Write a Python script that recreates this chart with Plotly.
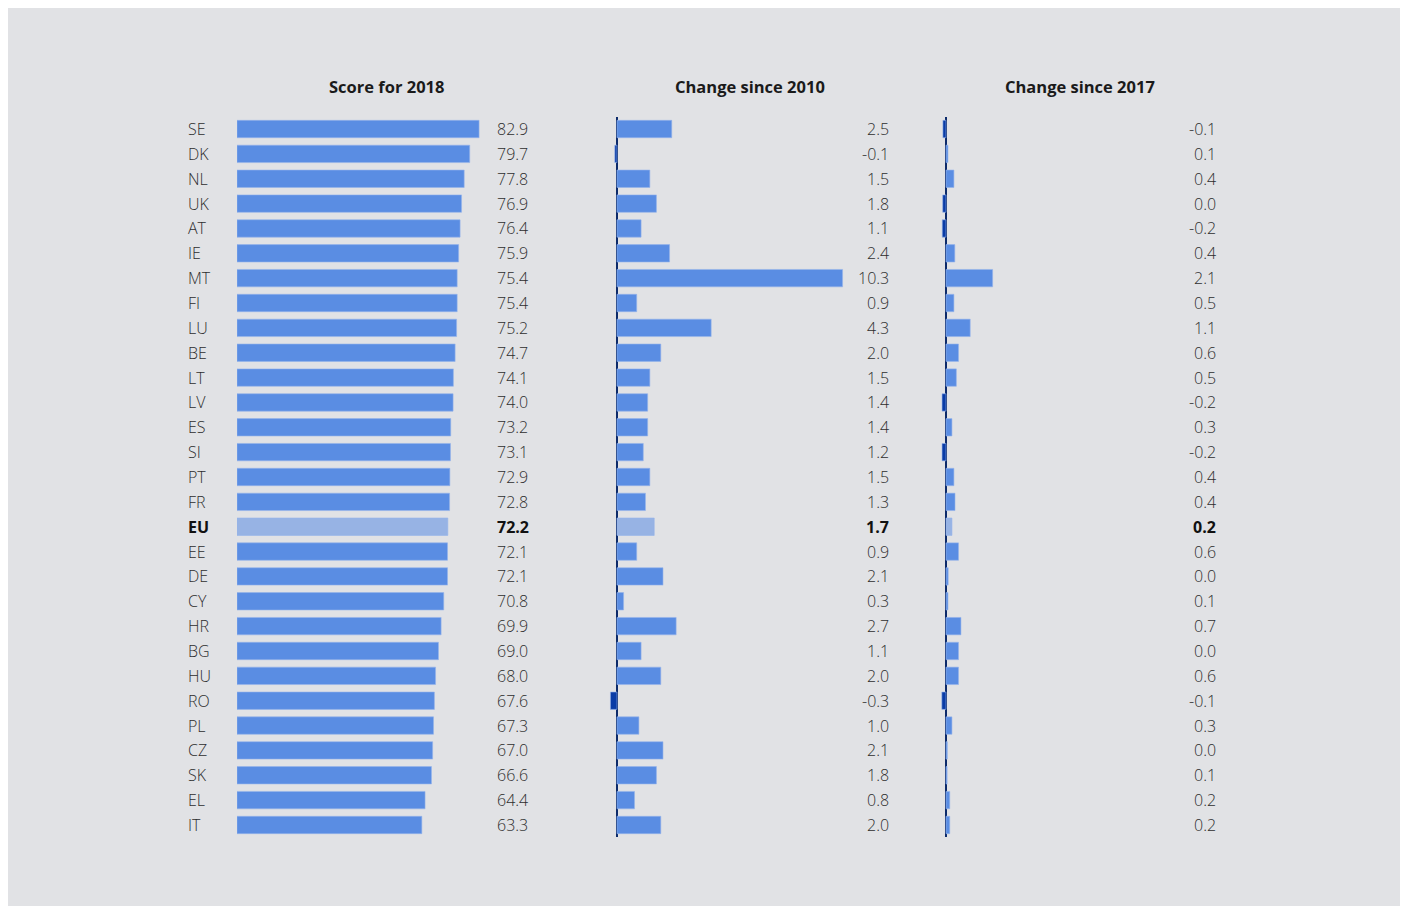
import plotly.graph_objects as go

countries = ["SE", "DK", "NL", "UK", "AT", "IE", "MT", "FI", "LU", "BE", "LT", "LV", "ES", "SI",
             "PT", "FR", "EU", "EE", "DE", "CY", "HR", "BG", "HU", "RO", "PL", "CZ", "SK", "EL", "IT"]
score_2018 = [82.9, 79.7, 77.8, 76.9, 76.4, 75.9, 75.4, 75.4, 75.2, 74.7, 74.1, 74.0, 73.2, 73.1,
              72.9, 72.8, 72.2, 72.1, 72.1, 70.8, 69.9, 69.0, 68.0, 67.6, 67.3, 67.0, 66.6, 64.4, 63.3]
change_2010 = [2.5, -0.1, 1.5, 1.8, 1.1, 2.4, 10.3, 0.9, 4.3, 2.0, 1.5, 1.4, 1.4, 1.2,
               1.5, 1.3, 1.7, 0.9, 2.1, 0.3, 2.7, 1.1, 2.0, -0.3, 1.0, 2.1, 1.8, 0.8, 2.0]
# labels shown for change since 2017
change_2017 = [-0.1, 0.1, 0.4, 0.0, -0.2, 0.4, 2.1, 0.5, 1.1, 0.6, 0.5, -0.2, 0.3, -0.2,
               0.4, 0.4, 0.2, 0.6, 0.0, 0.1, 0.7, 0.0, 0.6, -0.1, 0.3, 0.0, 0.1, 0.2, 0.2]
# bar lengths as drawn for change since 2017
change_2017_bar = [-0.14, 0.09, 0.36, -0.15, -0.17, 0.40, 2.12, 0.36, 1.10, 0.57, 0.47, -0.18, 0.27, -0.18,
                   0.36, 0.41, 0.27, 0.57, 0.10, 0.09, 0.68, 0.57, 0.57, -0.19, 0.27, 0.06, 0.05, 0.17, 0.17]
titles = ["Score for 2018", "Change since 2010", "Change since 2017"]

W, H = 1396, 898
BG = "#e1e2e5"
POS = "#5a8de3"
EUC = "#97b3e4"
NEG = "#0a3ca6"
AXC = "#0c2a6a"
TXT = "#2e2e2e"
FONT = "Open Sans"


def fx(px):
    return (px - 8) / W


def fy(py):
    return 1 - (py - 8) / H


def colors(vals):
    out = []
    for c, v in zip(countries, vals):
        if c == "EU":
            out.append(EUC)
        elif v < 0:
            out.append(NEG)
        else:
            out.append(POS)
    return out


def fmt(v):
    s = f"{v:.1f}"
    return s.replace("-0.0", "0.0")


fig = go.Figure()
bar_kw = dict(orientation="h", width=0.7, hoverinfo="skip", showlegend=False)
edge = dict(width=1, color="rgba(150,180,235,0.6)")
fig.add_trace(go.Bar(x=score_2018, y=countries, xaxis="x", yaxis="y",
                     marker=dict(color=colors(score_2018), line=edge), **bar_kw))
fig.add_trace(go.Bar(x=change_2010, y=countries, xaxis="x2", yaxis="y",
                     marker=dict(color=colors(change_2010), line=edge), **bar_kw))
fig.add_trace(go.Bar(x=change_2017_bar, y=countries, xaxis="x3", yaxis="y",
                     marker=dict(color=colors(change_2017_bar), line=edge), **bar_kw))

annotations = []
for i, c in enumerate(countries):
    bold = c == "EU"
    f = dict(family=FONT, size=16, color="#111111" if bold else TXT, weight=700 if bold else 300)
    annotations.append(dict(x=fx(186), y=c, xref="paper", yref="y", text=c, showarrow=False,
                            xanchor="left", yanchor="middle", font=f))
    annotations.append(dict(x=fx(495), y=c, xref="paper", yref="y", text=fmt(score_2018[i]), showarrow=False,
                            xanchor="left", yanchor="middle", font=f))
    annotations.append(dict(x=fx(891), y=c, xref="paper", yref="y", text=fmt(change_2010[i]), showarrow=False,
                            xanchor="right", yanchor="middle", font=f))
    annotations.append(dict(x=fx(1218), y=c, xref="paper", yref="y", text=fmt(change_2017[i]), showarrow=False,
                            xanchor="right", yanchor="middle", font=f))

for t, cx in zip(titles, [386, 750, 1080]):
    annotations.append(dict(x=fx(cx), y=fy(86), xref="paper", yref="paper", text=t, showarrow=False,
                            xanchor="center", yanchor="middle",
                            font=dict(family=FONT, size=16.5, color="#1a1a1a", weight=700)))

ax_common = dict(showgrid=False, showticklabels=False, ticks="", showline=False, anchor="y", fixedrange=True)
s2 = 21.9
s3 = 22.0
fig.update_layout(
    width=W, height=H,
    margin=dict(l=0, r=0, t=0, b=0),
    paper_bgcolor=BG, plot_bgcolor=BG,
    font=dict(family=FONT, size=16, color=TXT),
    bargap=0.3,
    xaxis=dict(range=[0, 100], domain=[fx(237), fx(237 + 100 * 2.92)], zeroline=False, **ax_common),
    xaxis2=dict(range=[-1, 11], domain=[fx(617 - s2), fx(617 + 11 * s2)], zeroline=True,
                zerolinecolor=AXC, zerolinewidth=2, **ax_common),
    xaxis3=dict(range=[-1, 3], domain=[fx(946 - s3), fx(946 + 3 * s3)], zeroline=True,
                zerolinecolor=AXC, zerolinewidth=2, **ax_common),
    yaxis=dict(categoryorder="array", categoryarray=countries, range=[28.5, -0.5],
               domain=[fy(837.4), fy(116.6)], showticklabels=False, showgrid=False, zeroline=False,
               ticks="", fixedrange=True),
    annotations=annotations,
)

fig.write_html("out.html")
